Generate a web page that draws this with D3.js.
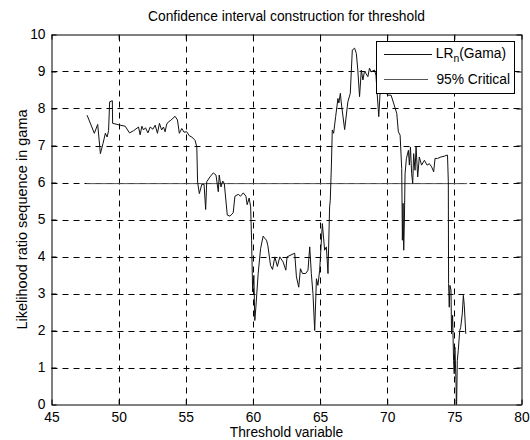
<!DOCTYPE html>
<html><head><meta charset="utf-8">
<script src="https://cdn.jsdelivr.net/npm/d3@7"></script>
<style>
body{margin:0;background:#fff}
text{font-family:"Liberation Sans",Arial,sans-serif;fill:#000}
</style>
</head><body>
<svg id="chart" width="530" height="440"></svg>
<script>
// ---- data ----
const titleText = "Confidence interval construction for threshold";
const xLabelText = "Threshold variable";
const yLabelText = "Likelihood ratio sequence in gama";
const xTicks = [45, 50, 55, 60, 65, 70, 75, 80];
const yTicks = [0, 1, 2, 3, 4, 5, 6, 7, 8, 9, 10];

const lrX = [47.65,48.19,48.44,48.64,48.84,49.01,49.14,49.25,49.33,49.53,49.55,49.88,50.49,50.81,51.11,51.48,51.60,51.73,51.85,52.00,52.18,52.35,52.55,52.72,52.89,53.04,53.20,53.34,53.46,53.58,53.71,53.88,54.20,54.38,54.52,54.70,54.87,55.07,55.27,55.45,55.69,55.82,55.88,56.01,56.19,56.36,56.48,56.56,56.80,57.05,57.25,57.42,57.49,57.62,57.75,57.87,58.09,58.29,58.53,58.66,58.91,59.08,59.28,59.48,59.57,59.72,59.83,59.90,59.98,60.07,60.14,60.22,60.39,60.57,60.76,60.89,61.01,61.11,61.31,61.46,61.63,61.82,62.00,62.25,62.45,62.54,63.11,63.24,63.41,63.54,63.69,63.93,64.10,64.23,64.35,64.47,64.60,64.73,64.84,64.97,65.17,65.34,65.47,65.59,65.71,65.76,65.84,65.91,66.01,66.16,66.33,66.40,66.51,66.58,66.83,67.07,67.25,67.40,67.57,67.70,67.81,67.94,68.07,68.19,68.31,68.56,68.68,68.81,69.05,69.16,69.37,69.50,69.65,70.02,70.29,70.71,70.83,70.96,71.08,71.11,71.13,71.18,71.23,71.28,71.33,71.43,71.58,71.65,71.73,71.82,71.90,71.97,72.07,72.15,72.27,72.39,72.56,72.77,72.97,73.14,73.31,73.46,73.56,73.75,74.00,74.25,74.45,74.49,74.55,74.57,74.62,74.67,74.75,74.79,74.87,74.94,74.99,75.04,75.12,75.16,75.22,75.29,75.40,75.47,75.59,75.67,75.74,75.85];
const lrY = [7.82,7.33,7.57,6.78,7.06,7.33,7.23,7.40,8.18,8.21,7.60,7.57,7.52,7.34,7.40,7.50,7.29,7.52,7.42,7.48,7.34,7.50,7.44,7.55,7.33,7.60,7.42,7.50,7.37,7.58,7.64,7.68,7.79,7.69,7.33,7.46,7.36,7.37,7.26,7.23,7.14,6.96,6.01,5.70,5.95,5.95,5.27,6.02,6.15,6.26,6.20,5.75,6.20,5.88,6.04,5.97,5.12,5.09,5.18,5.63,5.68,5.63,5.72,5.63,5.40,5.58,5.34,4.44,3.04,3.49,2.27,2.63,3.54,4.21,4.55,4.49,4.44,4.30,3.76,3.65,3.99,3.73,3.99,3.85,3.63,3.99,4.09,3.45,3.17,3.67,3.54,3.54,3.63,4.26,3.54,3.00,2.00,3.40,3.22,3.63,4.89,4.17,4.26,3.54,5.34,5.52,6.42,7.42,7.33,7.78,8.27,8.15,8.41,8.15,7.43,8.18,8.41,9.58,9.63,9.49,9.04,8.32,9.04,8.77,9.01,8.86,9.09,8.99,9.04,8.90,7.78,8.63,9.04,8.36,8.36,7.87,7.37,7.28,6.38,5.25,4.44,5.44,4.17,4.98,6.24,6.65,6.87,6.47,6.96,6.24,5.97,6.78,6.33,6.96,6.15,6.69,6.47,6.60,6.47,6.51,6.42,6.29,6.65,6.65,6.69,6.71,6.74,6.74,6.02,3.27,2.63,3.22,3.09,1.91,2.41,1.19,0.83,1.55,0.65,-0.2,1.19,1.46,2.00,2.08,2.45,2.95,2.68,1.91];

const critX = [47.6, 75.95];
const critY = [5.97, 5.97];

const legendLabels = ["LR", "95% Critical"];

// ---- layout ----
const svg = d3.select("#chart");
const x = d3.scaleLinear().domain([45, 80]).range([51.5, 521.5]);
const y = d3.scaleLinear().domain([0, 10]).range([404.5, 34.5]);
const FS = 13.8;

svg.append("rect").attr("width", 530).attr("height", 440).attr("fill", "#fff");

svg.append("defs").append("clipPath").attr("id", "clip")
  .append("rect").attr("x", x(45)).attr("y", y(10))
  .attr("width", x(80) - x(45)).attr("height", y(0) - y(10));

// grid
const grid = svg.append("g").attr("stroke", "#000").attr("stroke-width", 1)
  .attr("stroke-dasharray", "6,5");
grid.selectAll("line.vx").data(xTicks.slice(1, -1)).join("line")
  .attr("x1", d => Math.round(x(d)) + 0.5).attr("x2", d => Math.round(x(d)) + 0.5)
  .attr("y1", y(0)).attr("y2", y(10));
grid.selectAll("line.hy").data(yTicks.slice(1, -1)).join("line")
  .attr("x1", x(45)).attr("x2", x(80))
  .attr("y1", d => Math.round(y(d)) + 0.5).attr("y2", d => Math.round(y(d)) + 0.5);

// data lines
const plot = svg.append("g").attr("clip-path", "url(#clip)");
const line = d3.line().x(d => x(d[0])).y(d => y(d[1]));
plot.append("path").datum(critX.map((v, i) => [v, critY[i]]))
  .attr("d", line).attr("fill", "none").attr("stroke", "#555").attr("stroke-width", 1);
plot.append("path").datum(lrX.map((v, i) => [v, lrY[i]]))
  .attr("d", line).attr("fill", "none").attr("stroke", "#111").attr("stroke-width", 1);

// axes (MATLAB-style inward ticks on all sides)
const fmt = d3.format("d");
const gB = svg.append("g").attr("transform", `translate(0,${y(0)})`)
  .call(d3.axisBottom(x).tickValues(xTicks).tickFormat(fmt).tickSizeInner(-5).tickSizeOuter(0).tickPadding(8));
const gT = svg.append("g").attr("transform", `translate(0,${y(10)})`)
  .call(d3.axisTop(x).tickValues(xTicks).tickFormat("").tickSizeInner(-5).tickSizeOuter(0));
const gL = svg.append("g").attr("transform", `translate(${x(45)},0)`)
  .call(d3.axisLeft(y).tickValues(yTicks).tickFormat(fmt).tickSizeInner(-5).tickSizeOuter(0).tickPadding(6));
const gR = svg.append("g").attr("transform", `translate(${x(80)},0)`)
  .call(d3.axisRight(y).tickValues(yTicks).tickFormat("").tickSizeInner(-5).tickSizeOuter(0));
[gB, gT, gL, gR].forEach(g => {
  g.selectAll("path.domain").attr("stroke", "#000").attr("stroke-width", 1);
  g.selectAll(".tick line").attr("stroke", "#000");
  g.selectAll("text").attr("font-size", FS).attr("font-family", "Liberation Sans, Arial, sans-serif").attr("fill", "#000");
});

// titles
svg.append("text").attr("x", (x(45) + x(80)) / 2).attr("y", 21)
  .attr("text-anchor", "middle").attr("font-size", FS).text(titleText);
svg.append("text").attr("x", (x(45) + x(80)) / 2).attr("y", 437)
  .attr("text-anchor", "middle").attr("font-size", FS).text(xLabelText);
svg.append("text").attr("transform", `translate(27,${(y(0) + y(10)) / 2}) rotate(-90)`)
  .attr("text-anchor", "middle").attr("font-size", 14.5).text(yLabelText);

// legend
const lg = svg.append("g");
lg.append("rect").attr("x", 376.5).attr("y", 41.5).attr("width", 138).attr("height", 52)
  .attr("fill", "#fff").attr("stroke", "#000").attr("stroke-width", 1);
const t1 = lg.append("text").attr("x", 506).attr("y", 58).attr("text-anchor", "end").attr("font-size", FS);
t1.append("tspan").text(legendLabels[0]);
t1.append("tspan").attr("dy", 4).attr("font-size", FS * 0.75).text("n");
t1.append("tspan").attr("dy", -4).text("(Gama)");
lg.append("line").attr("x1", 384).attr("x2", 432).attr("y1", 54.5).attr("y2", 54.5)
  .attr("stroke", "#111");
lg.append("text").attr("x", 510).attr("y", 84).attr("text-anchor", "end").attr("font-size", FS)
  .text(legendLabels[1]);
lg.append("line").attr("x1", 384).attr("x2", 428).attr("y1", 79.5).attr("y2", 79.5)
  .attr("stroke", "#555");
</script>
</body></html>
